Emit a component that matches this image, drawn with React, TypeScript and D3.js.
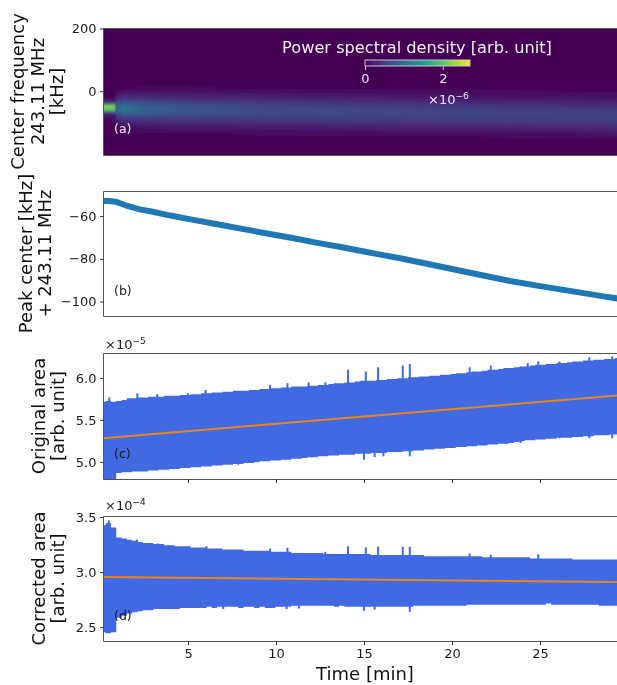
import React, { useEffect, useRef } from 'react'
import * as d3 from 'd3'

const W = 617
const H = 685
const FONT = '"DejaVu Sans", sans-serif'

const timeTicks = [5, 10, 15, 20, 25]
const tMin = 0.17
const tMax = 29.4

// panel (a): power spectral density, in units of 1e-6
const psdTimes = [0.17, 0.8, 0.95, 1.3, 2.5, 5, 9, 14, 20, 25, 29.4]
const psdFreqs = [20, 10, 0, -10, -20, -30, -40, -50, -60, -70, -80, -90, -100, -110, -120, -130, -140, -150, -160, -170]
const psdRows = [
  [0, 0, 0, 0.01, 0.01, 0.01, 0.01, 0.01, 0.01, 0.01, 0],
  [0, 0, 0.01, 0.03, 0.05, 0.05, 0.04, 0.04, 0.03, 0.02, 0.01],
  [0, 0, 0.04, 0.09, 0.11, 0.1, 0.09, 0.08, 0.06, 0.05, 0.04],
  [0.01, 0.02, 0.1, 0.18, 0.2, 0.18, 0.15, 0.13, 0.1, 0.09, 0.07],
  [0.03, 0.04, 0.22, 0.34, 0.32, 0.28, 0.24, 0.21, 0.16, 0.14, 0.12],
  [0.08, 0.1, 0.38, 0.56, 0.48, 0.41, 0.34, 0.3, 0.24, 0.21, 0.18],
  [0.6, 0.6, 0.58, 0.8, 0.66, 0.54, 0.45, 0.4, 0.34, 0.31, 0.27],
  [2.2, 2.2, 0.8, 1.02, 0.8, 0.65, 0.55, 0.5, 0.44, 0.41, 0.37],
  [2.0, 2.0, 0.88, 1.08, 0.85, 0.72, 0.61, 0.58, 0.52, 0.49, 0.45],
  [0.5, 0.5, 0.75, 0.94, 0.82, 0.72, 0.62, 0.6, 0.56, 0.54, 0.51],
  [0.1, 0.1, 0.5, 0.68, 0.66, 0.62, 0.58, 0.57, 0.56, 0.55, 0.54],
  [0.05, 0.05, 0.28, 0.44, 0.46, 0.47, 0.48, 0.48, 0.5, 0.51, 0.52],
  [0.03, 0.03, 0.14, 0.27, 0.31, 0.33, 0.36, 0.38, 0.41, 0.43, 0.46],
  [0.01, 0.01, 0.07, 0.16, 0.2, 0.22, 0.25, 0.27, 0.31, 0.34, 0.38],
  [0, 0, 0.04, 0.09, 0.12, 0.14, 0.17, 0.18, 0.22, 0.25, 0.29],
  [0, 0, 0.02, 0.05, 0.07, 0.08, 0.1, 0.11, 0.14, 0.17, 0.2],
  [0, 0, 0.01, 0.03, 0.04, 0.04, 0.05, 0.06, 0.08, 0.1, 0.13],
  [0, 0, 0, 0.01, 0.02, 0.02, 0.03, 0.03, 0.04, 0.06, 0.08],
  [0, 0, 0, 0, 0.01, 0.01, 0.01, 0.01, 0.02, 0.03, 0.04],
  [0, 0, 0, 0, 0, 0, 0, 0, 0.01, 0.01, 0.02],
]
const psdMax = 2.7
const colorbarTicks = [0, 2]

// panel (b)
const peakTimes = [0.17, 0.5, 0.9, 1.5, 2.27, 3, 4, 5.3, 6.5, 8, 9.5, 11, 12.5, 13.6, 15, 16, 17.05, 18.5, 20, 21.5, 23.3, 25, 26.5, 28, 28.6, 29.4]
const peakCenter = [-53.2, -53.2, -53.5, -55.4, -57.1, -58.2, -60, -62, -63.8, -66.1, -68.4, -70.6, -73, -74.6, -76.8, -78.4, -80, -82.4, -85, -87.6, -90.6, -93, -95, -97, -97.8, -98.8]

// panel (c), units of 1e-5, envelope of the oscillating signal
const origUpper = [
  5.71, 5.72, 5.71, 5.72, 5.73, 5.75, 5.75, 5.76, 5.76, 5.77,
  5.77, 5.77, 5.78, 5.78, 5.78, 5.79, 5.79, 5.80, 5.80, 5.81,
  5.81, 5.82, 5.82, 5.83, 5.83, 5.84, 5.84, 5.84, 5.85, 5.85,
  5.86, 5.86, 5.87, 5.87, 5.88, 5.88, 5.89, 5.89, 5.89, 5.90,
  5.90, 5.91, 5.91, 5.92, 5.93, 5.93, 5.94, 5.94, 5.95, 5.96,
  5.96, 5.96, 5.97, 5.97, 5.98, 5.98, 5.99, 5.99, 6.00, 6.00,
  6.01, 6.01, 6.02, 6.02, 6.03, 6.03, 6.04, 6.05, 6.05, 6.06,
  6.07, 6.07, 6.08, 6.09, 6.09, 6.10, 6.11, 6.11, 6.12, 6.13,
  6.13, 6.14, 6.15, 6.15, 6.16, 6.16, 6.17, 6.17, 6.18, 6.19,
  6.19, 6.20, 6.20, 6.21, 6.21, 6.22, 6.22, 6.23,
]
const origLower = [
  4.78, 4.78, 4.77, 4.86, 4.87, 4.87, 4.88, 4.88, 4.88, 4.89,
  4.89, 4.90, 4.90, 4.91, 4.91, 4.92, 4.92, 4.93, 4.93, 4.94,
  4.94, 4.95, 4.95, 4.96, 4.96, 4.97, 4.97, 4.98, 4.98, 4.99,
  5.00, 5.00, 5.01, 5.01, 5.02, 5.02, 5.03, 5.03, 5.04, 5.05,
  5.05, 5.06, 5.06, 5.07, 5.07, 5.08, 5.08, 5.08, 5.09, 5.09,
  5.09, 5.10, 5.10, 5.10, 5.11, 5.11, 5.11, 5.12, 5.12, 5.13,
  5.13, 5.14, 5.14, 5.15, 5.15, 5.16, 5.16, 5.17, 5.17, 5.18,
  5.18, 5.19, 5.19, 5.20, 5.20, 5.21, 5.21, 5.22, 5.23, 5.24,
  5.25, 5.25, 5.26, 5.26, 5.27, 5.27, 5.28, 5.28, 5.28, 5.29,
  5.29, 5.30, 5.30, 5.31, 5.31, 5.31, 5.32, 5.32,
]
const origFit = [5.275, 5.785]

// panel (d), units of 1e-4
const corrUpper = [
  3.42, 3.44, 3.40, 3.31, 3.30, 3.29, 3.28, 3.27, 3.26, 3.26,
  3.25, 3.25, 3.24, 3.24, 3.23, 3.23, 3.23, 3.22, 3.22, 3.22,
  3.21, 3.21, 3.21, 3.20, 3.20, 3.20, 3.20, 3.19, 3.19, 3.19,
  3.19, 3.19, 3.18, 3.18, 3.18, 3.18, 3.17, 3.17, 3.17, 3.17,
  3.17, 3.17, 3.16, 3.16, 3.16, 3.16, 3.16, 3.16, 3.16, 3.16,
  3.16, 3.15, 3.15, 3.15, 3.15, 3.15, 3.15, 3.15, 3.15, 3.15,
  3.15, 3.14, 3.14, 3.14, 3.14, 3.14, 3.14, 3.14, 3.14, 3.14,
  3.14, 3.14, 3.13, 3.13, 3.13, 3.13, 3.13, 3.13, 3.13, 3.13,
  3.13, 3.12, 3.12, 3.12, 3.12, 3.12, 3.12, 3.12, 3.12, 3.11,
  3.11, 3.11, 3.11, 3.11, 3.11, 3.11, 3.11, 3.11,
]
const corrLower = [
  2.45, 2.44, 2.45, 2.58, 2.60, 2.62, 2.63, 2.64, 2.65, 2.65,
  2.66, 2.66, 2.66, 2.66, 2.66, 2.67, 2.67, 2.67, 2.67, 2.67,
  2.68, 2.67, 2.68, 2.68, 2.68, 2.68, 2.67, 2.68, 2.68, 2.67,
  2.68, 2.67, 2.67, 2.68, 2.68, 2.68, 2.69, 2.69, 2.69, 2.69,
  2.69, 2.69, 2.69, 2.69, 2.68, 2.69, 2.68, 2.68, 2.68, 2.68,
  2.68, 2.68, 2.68, 2.68, 2.68, 2.68, 2.68, 2.68, 2.68, 2.69,
  2.69, 2.69, 2.69, 2.69, 2.69, 2.69, 2.69, 2.69, 2.69, 2.70,
  2.70, 2.70, 2.70, 2.70, 2.70, 2.70, 2.70, 2.70, 2.70, 2.70,
  2.70, 2.70, 2.70, 2.70, 2.71, 2.70, 2.70, 2.70, 2.70, 2.70,
  2.70, 2.70, 2.70, 2.70, 2.69, 2.69, 2.69, 2.69,
]
const corrFit = [2.95, 2.905]

// narrow excursions that stick out of the envelopes
const origSpikeTimes = [0.53, 2.12, 3.25, 5.0, 6.0, 9.66, 10.65, 11.85, 12.8, 14.09, 15.1, 15.8, 17.2, 17.6, 21.0, 22.2, 24.3, 24.9, 26.1, 27.8, 29.1]
const origSpikes = [5.76, 5.81, 5.80, 5.81, 5.85, 5.91, 5.93, 5.94, 5.94, 6.09, 6.07, 6.12, 6.14, 6.16, 6.12, 6.14, 6.17, 6.19, 6.19, 6.24, 6.25]
const origDipTimes = [7.85, 15.0, 15.6, 16.1, 17.6, 23.9]
const origDips = [4.96, 5.02, 5.05, 5.06, 5.06, 5.22]
const corrSpikeTimes = [0.5, 2.1, 3.3, 6.05, 9.66, 10.65, 12.8, 14.09, 15.1, 15.8, 17.2, 17.6, 21.0, 22.2, 24.9]
const corrSpikes = [3.465, 3.29, 3.256, 3.23, 3.21, 3.217, 3.18, 3.23, 3.22, 3.225, 3.225, 3.225, 3.165, 3.155, 3.157]
const corrDipTimes = [7.0, 10.6, 11.3, 15.0, 15.6, 17.6]
const corrDips = [2.66, 2.66, 2.665, 2.645, 2.655, 2.635]

const panels = [
  { top: 28, bottom: 155, domain: [-205, 200], ticks: [0, 200], tag: '(a)', tagY: 133 },
  { top: 191, bottom: 316, domain: [-107, -48.5], ticks: [-100, -80, -60], tag: '(b)', tagY: 295 },
  { top: 353, bottom: 479, domain: [4.79, 6.29], ticks: [5.0, 5.5, 6.0], tag: '(c)', tagY: 458 },
  { top: 516, bottom: 641, domain: [2.37, 3.505], ticks: [2.5, 3.0, 3.5], tag: '(d)', tagY: 620 },
]

const App = () => {
  const ref = useRef<SVGSVGElement>(null)

  useEffect(() => {
    const svg = d3.select(ref.current)
    svg.selectAll('*').remove()
    svg.style('font-family', FONT)

    const left = 103
    const x = d3.scaleLinear().domain([tMin, tMax]).range([left, W + 0.5])
    const ys = panels.map((p) => d3.scaleLinear().domain(p.domain).range([p.bottom, p.top]))
    const defs = svg.append('defs')

    panels.forEach((p, i) => {
      defs.append('clipPath').attr('id', `clip${i}`).append('rect')
        .attr('x', left).attr('y', p.top).attr('width', W - left).attr('height', p.bottom - p.top)
    })

    // (a) heatmap: each frequency row is a horizontal gradient through the read values
    const color = d3.scaleSequential(d3.interpolateViridis).domain([0, psdMax])
    const blur = defs.append('filter').attr('id', 'rowBlur')
      .attr('filterUnits', 'userSpaceOnUse')
      .attr('x', 0).attr('y', 0).attr('width', W).attr('height', H)
    blur.append('feGaussianBlur').attr('stdDeviation', '0 1.6')

    const heat = svg.append('g').attr('clip-path', 'url(#clip0)')
    heat.append('rect').attr('x', left).attr('y', panels[0].top)
      .attr('width', W - left).attr('height', panels[0].bottom - panels[0].top)
      .attr('fill', color(0))
    const rows = heat.append('g').attr('filter', 'url(#rowBlur)')
    psdFreqs.forEach((f, r) => {
      const grad = defs.append('linearGradient').attr('id', `row${r}`)
      psdRows[r].forEach((v, c) => {
        grad.append('stop')
          .attr('offset', (x(psdTimes[c]) - left) / (x(tMax) - left))
          .attr('stop-color', color(v))
      })
      rows.append('rect')
        .attr('x', left).attr('width', x(tMax) - left)
        .attr('y', ys[0](f + 5)).attr('height', ys[0](f - 5) - ys[0](f + 5) + 0.3)
        .attr('fill', `url(#row${r})`)
    })

    // (b)
    const peakLine = d3.line<number>().x((_, i) => x(peakTimes[i])).y((d) => ys[1](d))
    svg.append('path').attr('d', peakLine(peakCenter))
      .attr('clip-path', 'url(#clip1)')
      .attr('fill', 'none').attr('stroke', '#1f77b4').attr('stroke-width', 6)

    // (c) and (d)
    const drawBand = (i: number, upper: number[], lower: number[], spikeT: number[], spikes: number[], dipT: number[], dips: number[], fit: number[]) => {
      const y = ys[i]
      const g = svg.append('g').attr('clip-path', `url(#clip${i})`)
      const tAt = (k: number) => tMin + (k * (tMax - tMin)) / (upper.length - 1)
      const band = d3.area<number>().curve(d3.curveStep)
        .x((_, k) => x(tAt(k))).y0((_, k) => y(lower[k])).y1((d) => y(d))
      g.append('path').attr('d', band(upper)).attr('fill', '#4169e1')
      g.selectAll('rect.spike').data(spikeT).join('rect').attr('class', 'spike')
        .attr('x', (t) => x(t) - 1).attr('width', 2)
        .attr('y', (_, k) => y(spikes[k]))
        .attr('height', (t, k) => y(fit[0]) - y(spikes[k]))
        .attr('fill', '#4169e1')
      g.selectAll('rect.dip').data(dipT).join('rect').attr('class', 'dip')
        .attr('x', (t) => x(t) - 1).attr('width', 2)
        .attr('y', y(fit[0]))
        .attr('height', (t, k) => y(dips[k]) - y(fit[0]))
        .attr('fill', '#4169e1')
      const fitLine = d3.line<number>().x((_, k) => x(k === 0 ? tMin : tMax)).y((d) => y(d))
      g.append('path').attr('d', fitLine(fit)).attr('fill', 'none')
        .attr('stroke', '#e8861c').attr('stroke-width', 2)
    }
    drawBand(2, origUpper, origLower, origSpikeTimes, origSpikes, origDipTimes, origDips, origFit)
    drawBand(3, corrUpper, corrLower, corrSpikeTimes, corrSpikes, corrDipTimes, corrDips, corrFit)

    // frames, ticks, tags
    panels.forEach((p, i) => {
      const frame = svg.append('g').attr('fill', 'none').attr('stroke', '#555').attr('stroke-width', 1)
      frame.append('path').attr('d', `M${W + 1},${p.top + 0.5}H${left + 0.5}V${p.bottom + 0.5}H${W + 1}`)

      const fmt = i >= 2 ? d3.format('.1f') : (d: number) => d3.format('d')(d).replace('-', '\u2212')
      const yAxis = svg.append('g').attr('transform', `translate(${left + 0.5},0.5)`)
        .call(d3.axisLeft(ys[i]).tickValues(p.ticks).tickFormat(fmt as any).tickSize(3.5).tickPadding(3.5))
      yAxis.select('.domain').remove()
      yAxis.selectAll('text').attr('font-size', 13).attr('font-family', FONT).attr('fill', '#1a1a1a')
      yAxis.selectAll('line').attr('stroke', '#333')

      if (i >= 2) {
        const xAxis = svg.append('g').attr('transform', `translate(0,${p.bottom + 0.5})`)
          .call(d3.axisBottom(x).tickValues(timeTicks).tickFormat(i === 3 ? (d3.format('d') as any) : () => '').tickSize(3.5).tickPadding(3.5))
        xAxis.select('.domain').remove()
        xAxis.selectAll('text').attr('font-size', 13).attr('font-family', FONT).attr('fill', '#1a1a1a')
        xAxis.selectAll('line').attr('stroke', '#333')
      }

      svg.append('text').attr('x', 114).attr('y', p.tagY).text(p.tag)
        .attr('font-size', 12.5).attr('fill', i === 0 ? '#efe8f4' : '#1a1a1a')
    })

    // y labels
    const yLabel = (lines: string[], xs: number[], cy: number) => {
      lines.forEach((t, k) => {
        svg.append('text').attr('transform', `translate(${xs[k]},${cy}) rotate(-90)`)
          .attr('text-anchor', 'middle').attr('font-size', 18).attr('fill', '#111').text(t)
      })
    }
    yLabel(['Center frequency', '243.11 MHz', '[kHz]'], [24, 43.5, 62.5], 91.5)
    yLabel(['Peak center [kHz]', '+ 243.11 MHz'], [31.5, 51], 253.5)
    yLabel(['Original area', '[arb. unit]'], [45, 64], 416)
    yLabel(['Corrected area', '[arb. unit]'], [45, 64], 578.5)

    svg.append('text').attr('x', 365).attr('y', 680).attr('text-anchor', 'middle')
      .attr('font-size', 18).attr('fill', '#111').text('Time [min]')

    // multiplier labels
    const offset = (px: number, py: number, exp: string, fill: string) => {
      const t = svg.append('text').attr('x', px).attr('y', py).attr('font-size', 13).attr('fill', fill)
      t.append('tspan').text('\u00d710')
      t.append('tspan').attr('dy', -5).attr('font-size', 9).text(exp)
    }
    offset(105, 349, '\u22125', '#1a1a1a')
    offset(105, 510, '\u22124', '#1a1a1a')
    offset(428, 104, '\u22126', '#efe8f4')

    // colorbar
    const cbX = d3.scaleLinear().domain([0, psdMax]).range([365, 470])
    const cbGrad = defs.append('linearGradient').attr('id', 'cb')
    d3.range(0, 1.001, 0.1).forEach((o) => {
      cbGrad.append('stop').attr('offset', o).attr('stop-color', d3.interpolateViridis(o))
    })
    svg.append('rect').attr('x', 365).attr('y', 60).attr('width', 105).attr('height', 6)
      .attr('fill', 'url(#cb)').attr('stroke', '#cfc4d6').attr('stroke-width', 1)
    const cbAxis = svg.append('g').attr('transform', 'translate(0,66.5)')
      .call(d3.axisBottom(cbX).tickValues(colorbarTicks).tickFormat(d3.format('d') as any).tickSize(3.5).tickPadding(3.5))
    cbAxis.select('.domain').remove()
    cbAxis.selectAll('line').attr('stroke', '#d8d0de')
    cbAxis.selectAll('text').attr('font-size', 13).attr('font-family', FONT).attr('fill', '#efe8f4')

    svg.append('text').attr('x', 417).attr('y', 53).attr('text-anchor', 'middle')
      .attr('font-size', 16.2).attr('fill', '#f4eff7').text('Power spectral density [arb. unit]')
  }, [])

  // the reference is a slightly soft raster, so the whole drawing gets a touch of blur
  return <svg ref={ref} width={W} height={H} style={{ position: 'absolute', left: 0, top: 0, background: '#fff', filter: 'blur(0.45px)' }} />
}

export default App
